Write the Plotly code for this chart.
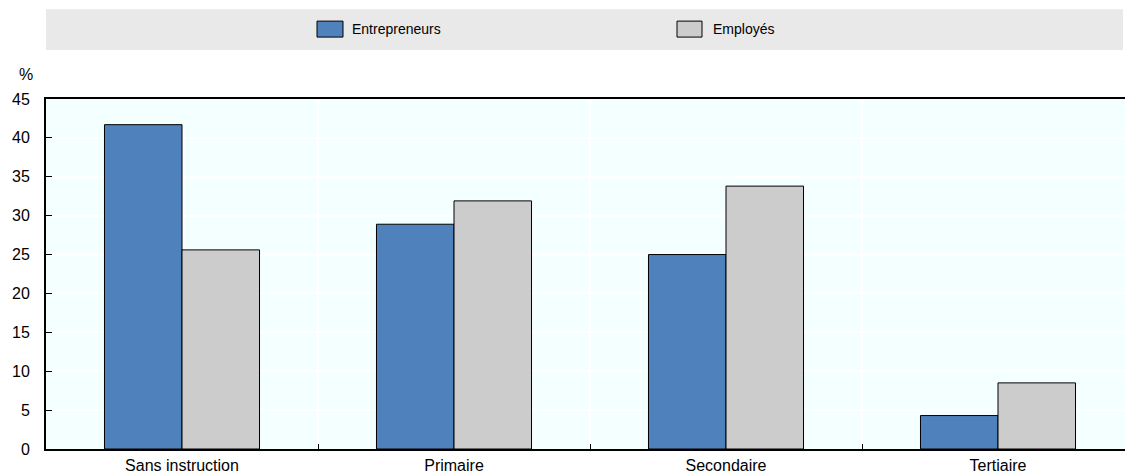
import plotly.graph_objects as go

# Education level categories and shares (%) for each group
categories = ["Sans instruction", "Primaire", "Secondaire", "Tertiaire"]
entrepreneurs = [41.7, 28.9, 25.0, 4.3]
employes = [25.6, 31.9, 33.8, 8.5]
series_names = ["Entrepreneurs", "Employés"]
y_ticks = [0, 5, 10, 15, 20, 25, 30, 35, 40, 45]

BLUE = "#4F81BD"
GREY = "#CCCCCC"
FONT = "Liberation Sans, Arial, sans-serif"

W, H = 1125, 475
L, R, T, B = 46, 0, 99, 25.5
plot_w = W - L - R
plot_h = H - T - B


def px_x(x):
    return (x - L) / plot_w


def px_y(y):
    return (H - B - y) / plot_h


fig = go.Figure()
fig.add_trace(go.Bar(x=categories, y=entrepreneurs, name=series_names[0],
                     marker=dict(color=BLUE, line=dict(color="#000000", width=1)),
                     showlegend=False))
fig.add_trace(go.Bar(x=categories, y=employes, name=series_names[1],
                     marker=dict(color=GREY, line=dict(color="#000000", width=1)),
                     showlegend=False))

# Custom legend band above the plot
shapes = [
    dict(type="rect", xref="paper", yref="paper", x0=px_x(46), x1=px_x(1123),
         y0=px_y(50), y1=px_y(9), fillcolor="#E9E9E9", line=dict(width=0), layer="below"),
    dict(type="rect", xref="paper", yref="paper", x0=px_x(317), x1=px_x(343),
         y0=px_y(37), y1=px_y(21), fillcolor=BLUE, line=dict(color="#000000", width=1)),
    dict(type="rect", xref="paper", yref="paper", x0=px_x(677), x1=px_x(702),
         y0=px_y(37), y1=px_y(21), fillcolor=GREY, line=dict(color="#000000", width=1)),
]
annotations = [
    dict(text=series_names[0], xref="paper", yref="paper", x=px_x(350), y=px_y(29),
         xanchor="left", yanchor="middle", showarrow=False,
         font=dict(family=FONT, size=14, color="#000000")),
    dict(text=series_names[1], xref="paper", yref="paper", x=px_x(711), y=px_y(29),
         xanchor="left", yanchor="middle", showarrow=False,
         font=dict(family=FONT, size=14, color="#000000")),
    dict(text="%", xref="paper", yref="paper", x=px_x(26), y=px_y(74),
         xanchor="center", yanchor="middle", showarrow=False,
         font=dict(family=FONT, size=16, color="#000000")),
]

span = plot_w / 272.0  # categories visible across the plot width

fig.update_layout(
    width=W, height=H,
    margin=dict(l=L, r=R, t=T, b=B, pad=0),
    paper_bgcolor="#FFFFFF",
    plot_bgcolor="#F4FFFF",
    barmode="group",
    bargap=0.43,
    bargroupgap=0,
    font=dict(family=FONT, size=16, color="#000000"),
    shapes=shapes,
    annotations=annotations,
    xaxis=dict(
        type="category",
        range=[-0.5, -0.5 + span],
        tickson="boundaries",
        ticks="inside", ticklen=5, tickwidth=1, tickcolor="#000000",
        showgrid=True, gridcolor="#FFFFFF", gridwidth=1.5,
        showline=True, linecolor="#000000", linewidth=2, mirror=True,
        tickfont=dict(family=FONT, size=16),
        ticklabelstandoff=1,
    ),
    yaxis=dict(
        range=[0, 45],
        tickvals=y_ticks,
        ticks="inside", ticklen=6, tickwidth=1, tickcolor="#000000",
        showgrid=True, gridcolor="#FFFFFF", gridwidth=1.5,
        zeroline=False,
        showline=True, linecolor="#000000", linewidth=2,
        tickfont=dict(family=FONT, size=16),
        ticklabelstandoff=11,
    ),
)

fig.write_html("out.html")
